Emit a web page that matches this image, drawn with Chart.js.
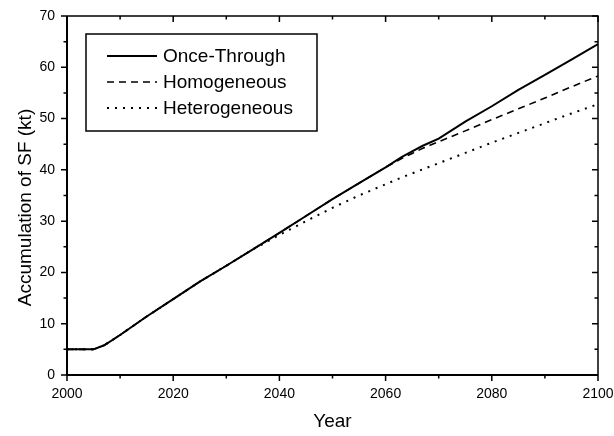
<!DOCTYPE html>
<html>
<head>
<meta charset="utf-8">
<script src="https://cdn.jsdelivr.net/npm/chart.js@4"></script>
<style>
  html, body { margin: 0; padding: 0; background: #fff; }
</style>
</head>
<body>
<canvas id="chart" width="614" height="436"></canvas>
<script>
// datos
const years = [2000, 2005, 2007, 2010, 2015, 2020, 2025, 2030, 2035, 2040, 2045, 2050,
  2055, 2060, 2063, 2065, 2067, 2070, 2075, 2080, 2085, 2090, 2095, 2100];
const onceThrough = [5, 5, 5.8, 7.8, 11.4, 14.8, 18.2, 21.3, 24.5, 27.7, 31.0, 34.3,
  37.4, 40.5, 42.5, 43.6, 44.7, 46.1, 49.4, 52.4, 55.6, 58.5, 61.5, 64.5];
const homogeneous = [5, 5, 5.8, 7.8, 11.4, 14.8, 18.2, 21.3, 24.5, 27.7, 31.0, 34.3,
  37.4, 40.5, 42.2, 43.2, 44.2, 45.5, 47.6, 49.8, 51.9, 54.0, 56.2, 58.3];
const heterogeneous = [5, 5, 5.8, 7.8, 11.4, 14.8, 18.2, 21.3, 24.5, 27.3, 30.0, 32.6,
  35.0, 37.2, 38.5, 39.3, 40.1, 41.3, 43.3, 45.3, 47.2, 49.1, 51.0, 52.8];
const seriesNames = ['Once-Through', 'Homogeneous', 'Heterogeneous'];
const xTickLabels = [2000, 2020, 2040, 2060, 2080, 2100];
const yTickLabels = [0, 10, 20, 30, 40, 50, 60, 70];

const FONT = "'Liberation Sans', Arial, sans-serif";

function toPoints(values) {
  return years.map((yr, i) => ({ x: yr, y: values[i] }));
}

// marco y marcas de los ejes (afuera abajo/izquierda, adentro arriba/derecha)
const frameTicks = {
  id: 'frameTicks',
  afterDraw(chart) {
    const { ctx, chartArea: a, scales: { x, y } } = chart;
    ctx.save();
    ctx.strokeStyle = '#000';
    ctx.lineWidth = 1.5;
    for (let v = x.min; v <= x.max; v += 10) {
      const px = x.getPixelForValue(v);
      const len = v % 20 === 0 ? 6 : 3.5;
      ctx.beginPath();
      ctx.moveTo(px, a.bottom); ctx.lineTo(px, a.bottom + len);
      ctx.moveTo(px, a.top); ctx.lineTo(px, a.top + len);
      ctx.stroke();
    }
    for (let v = y.min; v <= y.max; v += 5) {
      const py = y.getPixelForValue(v);
      const len = v % 10 === 0 ? 6 : 3.5;
      ctx.beginPath();
      ctx.moveTo(a.left, py); ctx.lineTo(a.left - len, py);
      ctx.moveTo(a.right, py); ctx.lineTo(a.right - len, py);
      ctx.stroke();
    }
    ctx.lineWidth = 2;
    ctx.beginPath();
    ctx.moveTo(a.left, a.top); ctx.lineTo(a.left, a.bottom); ctx.lineTo(a.right, a.bottom);
    ctx.stroke();
    ctx.lineWidth = 1.5;
    ctx.beginPath();
    ctx.moveTo(a.left, a.top); ctx.lineTo(a.right, a.top); ctx.lineTo(a.right, a.bottom);
    ctx.stroke();

    // titulo del eje Y
    ctx.fillStyle = '#000';
    ctx.font = '19px ' + FONT;
    ctx.textAlign = 'center';
    ctx.textBaseline = 'middle';
    ctx.translate(26, (a.top + a.bottom) / 2 + 12);
    ctx.rotate(-Math.PI / 2);
    ctx.fillText('Accumulation of SF (kt)', 0, 0);
    ctx.restore();
  }
};

// leyenda con recuadro dentro del area del grafico
const boxLegend = {
  id: 'boxLegend',
  afterDraw(chart) {
    const { ctx, chartArea: a } = chart;
    const left = a.left + 19, top = a.top + 18;
    ctx.save();
    ctx.fillStyle = '#fff';
    ctx.fillRect(left, top, 231, 97);
    ctx.strokeStyle = '#000';
    ctx.lineWidth = 1.5;
    ctx.strokeRect(left, top, 231, 97);
    ctx.font = '19px ' + FONT;
    ctx.textBaseline = 'middle';
    ctx.fillStyle = '#000';
    chart.data.datasets.forEach((ds, i) => {
      const rowY = top + 22 + i * 26;
      ctx.lineWidth = ds.borderWidth;
      ctx.setLineDash(ds.borderDash || []);
      ctx.beginPath();
      ctx.moveTo(left + 21, rowY);
      ctx.lineTo(left + 71, rowY);
      ctx.stroke();
      ctx.setLineDash([]);
      ctx.fillText(ds.label, left + 77, rowY + 1);
    });
    ctx.restore();
  }
};

const ctx = document.getElementById('chart').getContext('2d');
new Chart(ctx, {
  type: 'line',
  data: {
    datasets: [
      { label: seriesNames[0], data: toPoints(onceThrough), borderColor: '#000', borderWidth: 2 },
      { label: seriesNames[1], data: toPoints(homogeneous), borderColor: '#000', borderWidth: 1.6, borderDash: [7, 5] },
      { label: seriesNames[2], data: toPoints(heterogeneous), borderColor: '#000', borderWidth: 2, borderDash: [2, 6] }
    ]
  },
  options: {
    responsive: false,
    animation: false,
    layout: { padding: { left: 0, right: 16, top: 16, bottom: 0 } },
    elements: { point: { radius: 0 }, line: { tension: 0, fill: false } },
    plugins: { legend: { display: false }, tooltip: { enabled: false } },
    scales: {
      x: {
        type: 'linear',
        min: 2000,
        max: 2100,
        afterBuildTicks: s => { s.ticks = xTickLabels.map(v => ({ value: v })); },
        afterFit: s => { s.height = 61; s.paddingLeft = 0; s.paddingRight = 0; },
        grid: { display: false, drawTicks: false },
        border: { display: false },
        ticks: { color: '#000', font: { family: FONT, size: 14 }, padding: 11, maxRotation: 0, callback: v => String(v) },
        title: { display: true, text: 'Year', color: '#000', font: { family: FONT, size: 19 }, padding: { top: 0, bottom: 3 } }
      },
      y: {
        type: 'linear',
        min: 0,
        max: 70,
        afterBuildTicks: s => { s.ticks = yTickLabels.map(v => ({ value: v })); },
        afterFit: s => { s.width = 67; s.paddingTop = 0; s.paddingBottom = 0; },
        grid: { display: false, drawTicks: false },
        border: { display: false },
        ticks: { color: '#000', font: { family: FONT, size: 14 }, padding: 12, callback: v => String(v) }
      }
    }
  },
  plugins: [frameTicks, boxLegend]
});
</script>
</body>
</html>
